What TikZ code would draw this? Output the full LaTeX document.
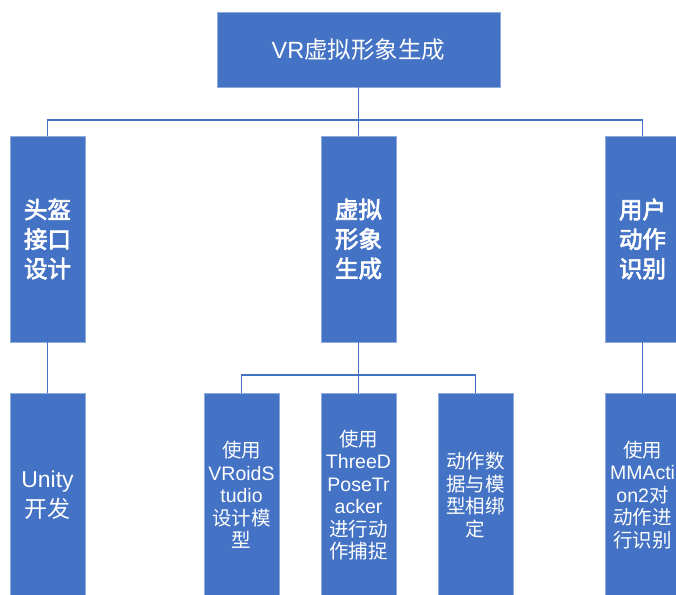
\documentclass[tikz,border=0pt]{standalone}
\usepackage{fontspec}
\setmainfont{Liberation Sans}
\newfontfamily\cjk{Noto Sans CJK SC}
\newfontfamily\cjkm[FakeBold=3]{Noto Sans CJK SC}
\definecolor{boxblue}{RGB}{68,114,196}
\definecolor{edgeblue}{RGB}{143,170,220}
\begin{document}
\begin{tikzpicture}[x=1pt,y=-1pt,
  box/.style={fill=boxblue,draw=edgeblue,line width=0.6pt,text=white,align=center,inner sep=0pt},
  topbox/.style={box,minimum width=283pt,minimum height=75pt,font=\fontsize{23.5}{28}\selectfont},
  midbox/.style={box,minimum width=75pt,minimum height=206pt,font=\cjkm\fontsize{23.5}{29.5}\selectfont},
  lowbox/.style={box,minimum width=75pt,minimum height=204pt,font=\fontsize{19.5}{22.5}\selectfont},
  link/.style={draw=boxblue,line width=1.3pt}]
\useasboundingbox (0,0) rectangle (676,594);
\clip (0,0) rectangle (676,594);
\fill[white] (0,0) rectangle (676,594);

\node[topbox] (top) at (358.5,49.5) {VR{\cjk 虚拟形象生成}};

\node[midbox] (b1) at (47.5,239) {头盔\\接口\\设计};
\node[midbox] (b2) at (358.5,239) {虚拟\\形象\\生成};
\node[midbox] (b3) at (642.5,239) {用户\\动作\\识别};

\node[lowbox,font=\fontsize{23}{30}\selectfont] (c0) at (47.5,495) {Unity\\{\cjk 开发}};
\node[lowbox] (c1) at (241.5,495) {{\cjk 使用}\\VRoidS\\tudio\\{\cjk 设计模}\\{\cjk 型}};
\node[lowbox] (c2) at (358.5,495) {{\cjk 使用}\\ThreeD\\PoseTr\\acker\\{\cjk 进行动}\\{\cjk 作捕捉}};
\node[lowbox] (c3) at (475.5,495) {{\cjk 动作数}\\{\cjk 据与模}\\{\cjk 型相绑}\\{\cjk 定}};
\node[lowbox] (c4) at (642.5,495) {{\cjk 使用}\\MMActi\\on2{\cjk 对}\\{\cjk 动作进}\\{\cjk 行识别}};

\coordinate (bus1) at (358.5,120);
\coordinate (bus2) at (358.5,375);

\draw[link] (top.south) -- (bus1) -| (b1.north);
\draw[link] (bus1) -- (b2.north);
\draw[link] (bus1) -| (b3.north);

\draw[link] (b1.south) -- (c0.north);
\draw[link] (b2.south) -- (bus2) -| (c1.north);
\draw[link] (bus2) -- (c2.north);
\draw[link] (bus2) -| (c3.north);
\draw[link] (b3.south) -- (c4.north);
\end{tikzpicture}
\end{document}
